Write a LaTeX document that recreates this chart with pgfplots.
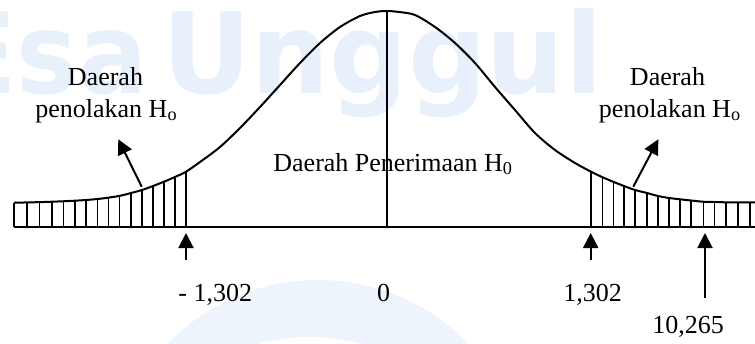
\documentclass[border=0pt]{standalone}
\usepackage{pgfplots}
\pgfplotsset{compat=1.18}
\usepackage{fontspec}
\setmainfont{Liberation Serif}
\newfontfamily\wmfont{DejaVu Sans}
\usetikzlibrary{arrows.meta}

\definecolor{wmblue}{RGB}{232,240,251}
\definecolor{wmring}{RGB}{238,244,252}

\tikzset{
  lbl/.style={font=\fontsize{13}{17}\selectfont, inner sep=0pt},
  wm/.style={text=wmblue, inner sep=0pt, font=\wmfont\bfseries\fontsize{56}{56}\selectfont},
  upar/.style={black, line width=1pt, -{Triangle[width=7.5pt,length=7.5pt]}},
}

% one unit = one pixel of the reference: x from the centre, y above the base line
\begin{document}
\begin{tikzpicture}
  \begin{axis}[
      width=377.5pt, height=171.5pt,
      scale only axis,
      hide axis,
      clip=false,
      xmin=-387, xmax=368,
      ymin=-116, ymax=227,
    ]
    % watermark
    \fill[wmring] (axis cs:-69,-262) circle[radius=104.5pt];
    \fill[white] (axis cs:-77,-305) circle[radius=97.5pt];
    \node[wm, anchor=base east] at (axis cs:-239,134) {\scalebox{0.92}[1]{Esa}};
    \node[wm, anchor=base west] at (axis cs:-225,134) {\scalebox{0.98}[1]{Unggul}};

    % hatching of the two tails
    \addplot[ycomb, black, line width=0.8pt, no marks] coordinates {
      (-373,24.3) (-360.3,24.6) (-347.7,25) (-335.3,25.3) (-323.7,25.8)
      (-312,26.3) (-301,27) (-289.7,28) (-278.7,29.5) (-267.7,31)
      (-256.3,34) (-245.3,37) (-234.3,41) (-223,45.3) (-212,50) (-201,55.3)
    };
    \addplot[ycomb, black, line width=0.8pt, no marks] coordinates {
      (203.7,55.3) (215.3,50) (226.3,45.3) (237,41) (248,37)
      (259.7,34) (270.7,31) (282,29) (293,27.7) (304,26.5)
      (316.3,25.3) (327.3,25) (338.7,24.7) (350.7,24.7) (363,24.7)
    };

    % curve
    \addplot[black, line width=1pt, smooth] coordinates {
      (-373,24.3) (-350,24.8) (-335,25.3) (-318,26) (-301,27) (-285,28.5)
      (-268,31) (-256,34) (-245,37) (-234,41) (-223,45.3) (-212,50)
      (-201,55.3) (-187,65) (-167,80) (-147,99) (-127,120) (-107,142)
      (-87,164) (-67,184) (-47,200) (-27,211) (-12,215) (0,216)
      (12,215) (28,212) (48,200) (68,184) (88,164) (108,140) (128,117)
      (148,94) (168,77) (188,64) (204,55.3) (215,50) (226,45.3) (237,41)
      (248,37) (260,34) (271,31) (282,29) (293,27.7) (304,26.5)
      (316,25.3) (327,25) (339,24.7) (351,24.7) (368,24.7)
    };

    % base line and centre line
    \addplot[black, line width=1.2pt] coordinates {(-373,0) (368,0)};
    \addplot[black, line width=0.8pt] coordinates {(0,0) (0,216)};

    % arrows
    \addplot[upar] coordinates {(-201,-33) (-201,-6)};
    \addplot[upar] coordinates {(203.7,-33) (203.7,-6)};
    \addplot[upar] coordinates {(318,-71) (318,-6)};
    \addplot[upar] coordinates {(-245.3,40.3) (-268.7,87.7)};
    \addplot[upar] coordinates {(246.3,40.3) (271.3,87.7)};

    % texts
    \node[lbl, anchor=base] at (axis cs:-281.5,142) {Daerah};
    \node[lbl, anchor=base] at (axis cs:-280.5,110) {penolakan H\textsubscript{o}};
    \node[lbl, anchor=base] at (axis cs:280.5,142) {Daerah};
    \node[lbl, anchor=base] at (axis cs:283,110) {penolakan H\textsubscript{o}};
    \node[lbl, anchor=base west] at (axis cs:-114,56) {Daerah Penerimaan H\textsubscript{0}};
    \node[lbl, anchor=base west] at (axis cs:-209,-74) {- 1,302};
    \node[lbl, anchor=base] at (axis cs:-3.5,-74) {0};
    \node[lbl, anchor=base west] at (axis cs:176,-74) {1,302};
    \node[lbl, anchor=base west] at (axis cs:265,-106) {10,265};
  \end{axis}
  \pgfresetboundingbox
  \path (current axis.south west) rectangle (current axis.north east);
\end{tikzpicture}
\end{document}
